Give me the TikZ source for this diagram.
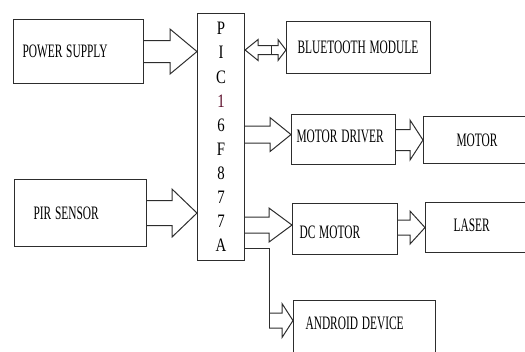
\documentclass[tikz,border=0pt]{standalone}
\usepackage{fontspec}
\usepackage{graphicx}
\usetikzlibrary{calc}
\setmainfont{Liberation Serif}
\definecolor{linec}{RGB}{45,45,45}
\definecolor{oneclr}{RGB}{90,10,40}
\newcommand{\nar}[1]{\scalebox{0.6}[1]{#1}}
\newcommand{\chp}[1]{\scalebox{0.78}[1]{#1}}
\tikzset{
  blk/.style={draw=linec,line width=1.1pt,anchor=north west,inner ysep=0pt,align=left,
    font=\fontsize{19}{23}\selectfont},
  arr/.style={draw=linec,line width=1pt,line join=miter}
}
\newcommand{\fatarrow}[5]{%
  \draw[arr] let \p1=(#1), \p2=(#2) in
    (\x1,{\y2+#3pt}) -- ({\x2-(#5pt)},{\y2+#3pt}) -- ({\x2-(#5pt)},{\y2+#4pt})
    -- (\x2,\y2) -- ({\x2-(#5pt)},{\y2-#4pt}) -- ({\x2-(#5pt)},{\y2-#3pt}) -- (\x1,{\y2-#3pt});}
\begin{document}
\begin{tikzpicture}[x=1pt,y=-1pt]
    \useasboundingbox (0,0) rectangle (525,351);
    \clip (0,0) rectangle (525,351);
    \node[blk,minimum height=64,inner xsep=9,text width=112] (ps) at (13,19) {\nar{POWER SUPPLY}};
    \node[blk,minimum height=67,inner xsep=19,text width=94] (pir) at (14,179) {\nar{PIR SENSOR}};
    \node[blk,align=center,minimum width=47,minimum height=247,inner xsep=0pt,
      font=\fontsize{19}{24.1}\selectfont] (pic) at (197,13)
      {\chp{P}\\\chp{I}\\\chp{C}\\\chp{\textcolor{oneclr}{1}}\\\chp{6}\\\chp{F}\\\chp{8}\\\chp{7}\\\chp{7}\\\chp{A}};
    \node[blk,minimum height=52,inner xsep=11,text width=122] (bt) at (286,21) {\nar{BLUETOOTH MODULE}};
    \node[blk,minimum height=50,inner xsep=5,text width=94,text depth=6pt] (md) at (291,114) {\nar{MOTOR DRIVER}};
    \node[blk,minimum height=47,inner xsep=33,text width=54] (mo) at (423,116) {\nar{MOTOR}};
    \node[blk,minimum height=51,inner xsep=7,text width=91,text height=19.6pt] (dc) at (292,203) {\nar{DC MOTOR}};
    \node[blk,minimum height=50,inner xsep=28,text width=64,text depth=4pt] (la) at (425,202) {\nar{LASER}};
    \node[blk,minimum height=60,inner xsep=12,text width=118,text depth=14pt] (ad) at (293,300) {\nar{ANDROID DEVICE}};
    \coordinate (btmid) at (271,50);
    \coordinate (mdin) at ([yshift=5pt]md.west);
    \coordinate (dcin) at ([yshift=4pt]dc.west);
    \coordinate (adout) at ([yshift=13pt]pic.south east);
    \coordinate (adin) at ([yshift=10pt]ad.west);
    \fatarrow{ps.east}{pic.west |- ps.east}{11}{22.5}{27}
    \fatarrow{pir.east}{pic.west |- pir.east}{12.5}{24}{25}
    \fatarrow{btmid}{bt.west |- btmid}{4.5}{10.5}{8}
    \fatarrow{btmid}{pic.east |- btmid}{4.5}{10.5}{-13}
    \draw[arr] ([yshift=4.5pt]btmid) -- ([yshift=-4.5pt]btmid);
    \fatarrow{pic.east |- mdin}{mdin}{8.5}{17}{21}
    \fatarrow{md.east}{mo.west}{10.5}{20}{13}
    \fatarrow{pic.east |- dcin}{dcin}{8}{17}{23}
    \fatarrow{dc.east}{la.west}{7.5}{16.5}{15}
    \draw[arr] (adout) -| ([xshift=-24pt,yshift=-7.5pt]adin);
    \fatarrow{[xshift=-24pt]adin}{adin}{7.5}{17}{11}
\end{tikzpicture}
\end{document}
